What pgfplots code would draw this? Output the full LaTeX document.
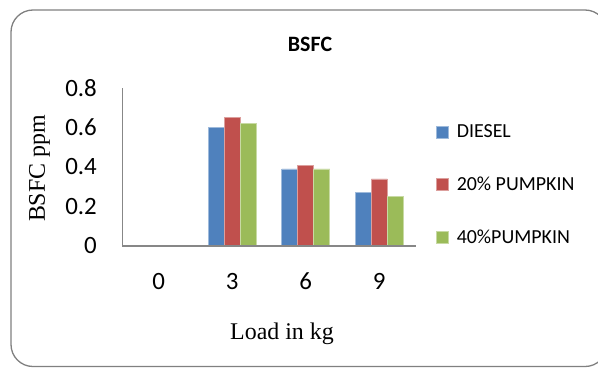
\documentclass[border=0pt]{standalone}
\usepackage{fontspec}
\setmainfont{Carlito}
\newfontfamily\seriffont{Liberation Serif}
\usepackage{pgfplots}
\pgfplotsset{compat=1.18}
\definecolor{cblue}{HTML}{4F81BD}
\definecolor{cred}{HTML}{C0504D}
\definecolor{cgreen}{HTML}{9BBB59}
\definecolor{axgray}{HTML}{878787}
\definecolor{framegray}{HTML}{808080}
\begin{document}
\begin{tikzpicture}[x=1bp,y=1bp]
\useasboundingbox (0,0) rectangle (598,367);
\begin{scope}
\clip (0,0) rectangle (598,367);
\draw[framegray, line width=1.3bp, rounded corners=22bp] (11,0.5) rectangle (607,357);
\end{scope}
\begin{axis}[
  at={(122bp,121bp)}, anchor=south west,
  scale only axis, width=294bp, height=158bp,
  xmin=-0.5, xmax=3.5, ymin=0, ymax=0.8,
  xtick={0,1,2,3}, xticklabels={0,3,6,9},
  ytick={0,0.2,0.4,0.6,0.8},
  axis x line=bottom, axis y line=left,
  x axis line style={-, axgray, line width=1.6bp},
  y axis line style={-, axgray, line width=1bp},
  major tick length=0pt,
  axis on top,
  tick label style={font=\fontsize{25}{25}\selectfont},
  /pgf/number format/assume math mode=true,
  xticklabel style={anchor=center, inner sep=0pt, yshift=-35bp},
  yticklabel style={anchor=east, inner sep=0pt, xshift=-25bp},
  ybar=0pt, bar width=16bp,
  legend style={draw=none, fill=none, at={(1.068,0.386)}, anchor=west,
    font=\fontsize{20}{20}\selectfont, row sep=34bp, inner sep=0pt,
    column sep=6bp},
  legend cell align=left,
  legend image code/.code={\fill[#1] (0bp,-6bp) rectangle (12bp,6bp);},
]
\addplot[fill=cblue, draw=cblue!55!white, line width=0.6bp] coordinates {(0,0) (1,0.60) (2,0.39) (3,0.27)};
\addplot[fill=cred, draw=cred!55!white, line width=0.6bp] coordinates {(0,0) (1,0.65) (2,0.41) (3,0.34)};
\addplot[fill=cgreen, draw=cgreen!55!white, line width=0.6bp] coordinates {(0,0) (1,0.62) (2,0.39) (3,0.25)};
\legend{DIESEL, 20\% PUMPKIN, 40\%PUMPKIN}
\end{axis}
\node[font=\bfseries\fontsize{22}{22}\selectfont] at (310,323) {BSFC};
\node[rotate=90, font=\seriffont\fontsize{24}{24}\selectfont] at (39.5,198.5) {BSFC ppm};
\node[font=\seriffont\fontsize{24}{24}\selectfont] at (282,33) {Load in kg};
\end{tikzpicture}
\end{document}
